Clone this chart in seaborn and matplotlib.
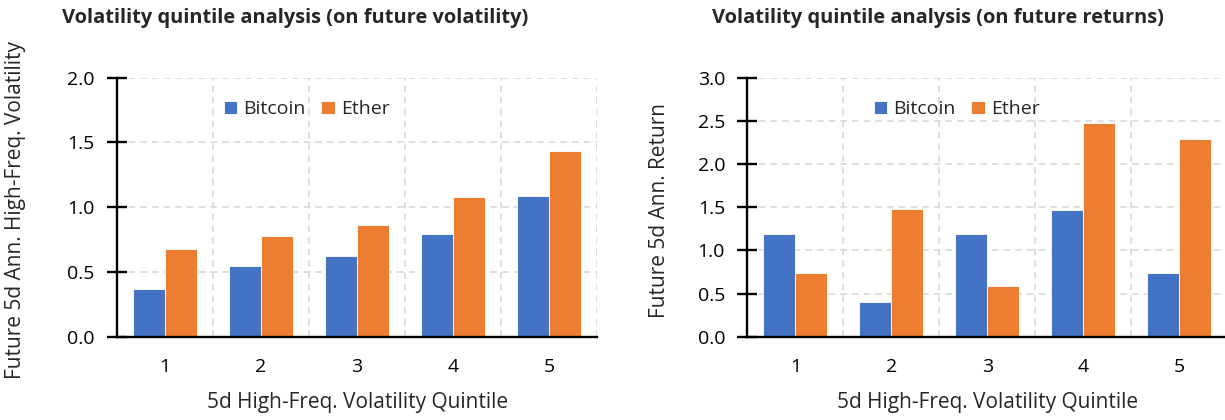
import pandas as pd
import matplotlib.pyplot as plt
from matplotlib.ticker import FixedLocator
import seaborn as sns

# データ
quintiles = ["1", "2", "3", "4", "5"]
assets = ["Bitcoin", "Ether"]
vol_bitcoin = [0.37, 0.55, 0.625, 0.79, 1.09]
vol_ether = [0.68, 0.775, 0.867, 1.08, 1.434]
ret_bitcoin = [1.19, 0.40, 1.195, 1.47, 0.735]
ret_ether = [0.735, 1.475, 0.587, 2.47, 2.295]

sns.set_theme(style="white")
plt.rcParams["font.family"] = ["Open Sans", "DejaVu Sans"]

palette = {"Bitcoin": "#4472C4", "Ether": "#ED7D31"}
TICK_FS = 14
LABEL_FS = 15
TITLE_FS = 14.4


def long_df(btc, eth):
    return pd.DataFrame({
        "quintile": quintiles * 2,
        "asset": ["Bitcoin"] * 5 + ["Ether"] * 5,
        "value": btc + eth,
    })


fig = plt.figure(figsize=(12.25, 4.2), dpi=100)
ax1 = fig.add_axes([0.0955, 0.198, 0.392, 0.617])
ax2 = fig.add_axes([0.610, 0.198, 0.392, 0.617])

panels = [
    (ax1, long_df(vol_bitcoin, vol_ether), 2.0, "Future 5d Ann. High-Freq. Volatility", 0.395, 0.021),
    (ax2, long_df(ret_bitcoin, ret_ether), 3.0, "Future 5d Ann. Return", 0.436, 0.547),
]

for ax, df, ymax, ylabel, lx, ylx in panels:
    sns.barplot(data=df, x="quintile", y="value", hue="asset", hue_order=assets,
                palette=palette, width=0.667, gap=0, saturation=1,
                edgecolor="white", linewidth=0.6, ax=ax, zorder=3)
    ax.set_xlim(-0.5, 4.5)
    ax.set_ylim(0, ymax)
    ax.set_yticks([i * 0.5 for i in range(int(ymax / 0.5) + 1)])
    ax.set_yticklabels([f"{i * 0.5:.1f}" for i in range(int(ymax / 0.5) + 1)])
    ax.xaxis.set_minor_locator(FixedLocator([i - 0.5 for i in range(6)]))

    # 罫線
    ax.grid(axis="y", which="major", color="#d9d9d9", linestyle=(0, (4, 3)), linewidth=1.2, zorder=0)
    ax.grid(axis="x", which="minor", color="#d9d9d9", linestyle=(0, (4, 3)), linewidth=1.2, zorder=0)
    ax.grid(axis="x", which="major", visible=False)

    for s in ["top", "right"]:
        ax.spines[s].set_visible(False)
    for s in ["left", "bottom"]:
        ax.spines[s].set_color("black")
        ax.spines[s].set_linewidth(1.7)
        ax.spines[s].set_zorder(4)

    ax.tick_params(axis="x", which="major", length=0, labelsize=TICK_FS, pad=15, colors="black")
    ax.tick_params(axis="x", which="minor", direction="inout", length=12, width=1.7, color="black")
    ax.tick_params(axis="y", which="major", direction="inout", length=14, width=1.7, pad=9,
                   labelsize=TICK_FS, color="black", labelcolor="black", left=True)

    ax.set_xlabel("5d High-Freq. Volatility Quintile", fontsize=LABEL_FS, labelpad=12)
    ax.set_ylabel(ylabel, fontsize=LABEL_FS)
    ax.yaxis.set_label_coords(ylx, 0.5, transform=fig.transFigure)

    ax.legend(loc="center", bbox_to_anchor=(lx, 0.878), ncol=2, frameon=False,
              fontsize=TICK_FS, handlelength=0.7, handleheight=0.7, handletextpad=0.3,
              columnspacing=0.8)

fig.text(0.051, 0.957, "Volatility quintile analysis (on future volatility)",
         fontsize=TITLE_FS, fontweight="bold", va="center", ha="left")
fig.text(0.581, 0.957, "Volatility quintile analysis (on future returns)",
         fontsize=TITLE_FS, fontweight="bold", va="center", ha="left")

plt.savefig("out.png", dpi=100)
